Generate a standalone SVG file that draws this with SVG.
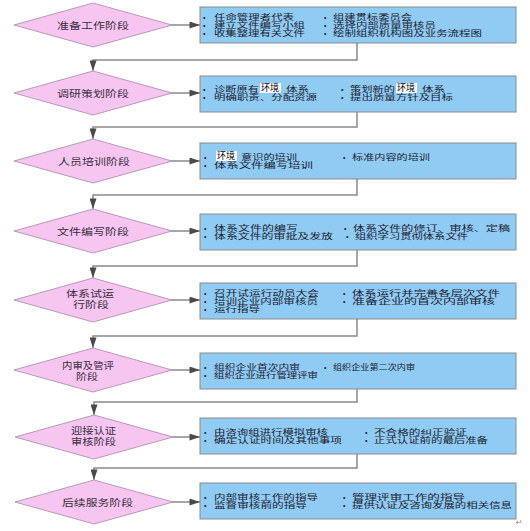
<svg xmlns="http://www.w3.org/2000/svg" width="530" height="531" viewBox="0 0 530 531">
<defs>
<style>
.dia{fill:#F6C6F1;stroke:#B79AB5;stroke-width:1}
.box{fill:#8FCBF3;stroke:#8C8C8C;stroke-width:1}
.dt{font-family:"Liberation Serif","Noto Sans CJK SC",serif;font-size:9.5px;fill:#3A2E3E}
.bt{font-family:"Liberation Serif","Noto Sans CJK SC",serif;font-size:7.5px;fill:#1C1C30}
.bu{font-family:"Liberation Sans",sans-serif;font-size:7px;fill:#1C1C30}
.hl{fill:#FFFFFF}
.ht{font-family:"Liberation Sans","Noto Sans CJK SC",sans-serif;font-size:9px;fill:#000000}
.ln{fill:none;stroke:#8A8A8A;stroke-width:1.5}
</style>
<marker id="ar" viewBox="0 0 12 8" refX="12" refY="4" markerWidth="11" markerHeight="7" markerUnits="userSpaceOnUse" orient="auto">
<path d="M0,0 L12,4 L0,8 z" fill="#4A4A4A"/>
</marker>
</defs>
<rect width="530" height="531" fill="#FFFFFF"/>

<g id="connectors">
<line class="ln" x1="171" y1="25" x2="200" y2="25" marker-end="url(#ar)"/>
<line class="ln" x1="171" y1="93" x2="200" y2="93" marker-end="url(#ar)"/>
<line class="ln" x1="171" y1="161" x2="200" y2="161" marker-end="url(#ar)"/>
<line class="ln" x1="171" y1="231" x2="200" y2="231" marker-end="url(#ar)"/>
<line class="ln" x1="171" y1="300" x2="200" y2="300" marker-end="url(#ar)"/>
<line class="ln" x1="171" y1="370" x2="200" y2="370" marker-end="url(#ar)"/>
<line class="ln" x1="172" y1="437" x2="200" y2="437" marker-end="url(#ar)"/>
<line class="ln" x1="172" y1="502" x2="200" y2="502" marker-end="url(#ar)"/>
<polyline class="ln" points="357,43 357,60 93,60 93,71" marker-end="url(#ar)"/>
<polyline class="ln" points="357,112 357,127 93,127 93,139" marker-end="url(#ar)"/>
<polyline class="ln" points="357,179 357,195 93,195 93,209" marker-end="url(#ar)"/>
<polyline class="ln" points="357,250 357,266 93,266 93,278" marker-end="url(#ar)"/>
<polyline class="ln" points="357,319 357,336 93,336 93,348" marker-end="url(#ar)"/>
<polyline class="ln" points="357,389 357,402 94,402 94,415" marker-end="url(#ar)"/>
<polyline class="ln" points="357,454 357,468 94,468 94,480" marker-end="url(#ar)"/>
</g>

<g id="stage1">
<polygon class="dia" points="14,25 93,3 172,25 93,47"/>
<text class="dt" x="57" y="28.5" textLength="72" lengthAdjust="spacingAndGlyphs">准备工作阶段</text>
</g>
<g id="stage2">
<polygon class="dia" points="14,93 93,71 172,93 93,115"/>
<text class="dt" x="57" y="96.5" textLength="72" lengthAdjust="spacingAndGlyphs">调研策划阶段</text>
</g>
<g id="stage3">
<polygon class="dia" points="14,161 93,139 172,161 93,183"/>
<text class="dt" x="58" y="164.5" textLength="72" lengthAdjust="spacingAndGlyphs">人员培训阶段</text>
</g>
<g id="stage4">
<polygon class="dia" points="14,231 93,209 172,231 93,253"/>
<text class="dt" x="57" y="234.5" textLength="72" lengthAdjust="spacingAndGlyphs">文件编写阶段</text>
</g>
<g id="stage5">
<polygon class="dia" points="14,300 93,278 172,300 93,322"/>
<text class="dt" x="66" y="297" textLength="48" lengthAdjust="spacingAndGlyphs">体系试运</text>
<text class="dt" x="73" y="308" textLength="36" lengthAdjust="spacingAndGlyphs">行阶段</text>
</g>
<g id="stage6">
<polygon class="dia" points="14,370 93,348 172,370 93,392"/>
<text class="dt" x="62" y="369" textLength="52" lengthAdjust="spacingAndGlyphs">内审及管评</text>
<text class="dt" x="76" y="380" textLength="22" lengthAdjust="spacingAndGlyphs">阶段</text>
</g>
<g id="stage7">
<polygon class="dia" points="15,437 94,415 173,437 94,459"/>
<text class="dt" x="71" y="433.5" textLength="45" lengthAdjust="spacingAndGlyphs">迎接认证</text>
<text class="dt" x="71" y="444.5" textLength="45" lengthAdjust="spacingAndGlyphs">审核阶段</text>
</g>
<g id="stage8">
<polygon class="dia" points="15,502 94,480 173,502 94,524"/>
<text class="dt" x="62" y="505.5" textLength="71" lengthAdjust="spacingAndGlyphs">后续服务阶段</text>
</g>

<g id="tasks1">
<rect class="box" x="200" y="7" width="316" height="36"/>
<text class="bu" x="203" y="20">•</text>
<text class="bu" x="203" y="28">•</text>
<text class="bu" x="203" y="36">•</text>
<text class="bt" x="214" y="20" textLength="80" lengthAdjust="spacingAndGlyphs">任命管理者代表</text>
<text class="bt" x="214" y="28" textLength="91" lengthAdjust="spacingAndGlyphs">建立文件编写小组</text>
<text class="bt" x="214" y="36" textLength="91" lengthAdjust="spacingAndGlyphs">收集整理有关文件</text>
<text class="bu" x="324" y="20">•</text>
<text class="bu" x="324" y="28">•</text>
<text class="bu" x="324" y="36">•</text>
<text class="bt" x="333" y="20" textLength="79" lengthAdjust="spacingAndGlyphs">组建贯标委员会</text>
<text class="bt" x="333" y="28" textLength="103" lengthAdjust="spacingAndGlyphs">选择内部质量审核员</text>
<text class="bt" x="333" y="36" textLength="149" lengthAdjust="spacingAndGlyphs">绘制组织机构图及业务流程图</text>
</g>

<g id="tasks2">
<rect class="box" x="200" y="76" width="316" height="36"/>
<text class="bu" x="203" y="92">•</text>
<text class="bu" x="203" y="100">•</text>
<text class="bt" x="214" y="92" textLength="45" lengthAdjust="spacingAndGlyphs">诊断原有</text>
<rect class="hl" x="260" y="83" width="21" height="10"/>
<text class="ht" x="261" y="91.3">环境</text>
<text class="bt" x="286" y="92" textLength="23" lengthAdjust="spacingAndGlyphs">体系</text>
<text class="bt" x="214" y="100" textLength="103" lengthAdjust="spacingAndGlyphs">明确职责、分配资源</text>
<text class="bu" x="341" y="92">•</text>
<text class="bu" x="341" y="100">•</text>
<text class="bt" x="350" y="92" textLength="45" lengthAdjust="spacingAndGlyphs">策划新的</text>
<rect class="hl" x="396" y="83" width="21" height="10"/>
<text class="ht" x="397" y="91.3">环境</text>
<text class="bt" x="422" y="92" textLength="23" lengthAdjust="spacingAndGlyphs">体系</text>
<text class="bt" x="350" y="100" textLength="103" lengthAdjust="spacingAndGlyphs">提出质量方针及目标</text>
</g>

<g id="tasks3">
<rect class="box" x="200" y="143" width="316" height="36"/>
<text class="bu" x="204" y="160">•</text>
<text class="bu" x="204" y="168">•</text>
<rect class="hl" x="216" y="151" width="21" height="10"/>
<text class="ht" x="217" y="159.3">环境</text>
<text class="bt" x="241" y="160" textLength="56" lengthAdjust="spacingAndGlyphs">意识的培训</text>
<text class="bt" x="214" y="168" textLength="99" lengthAdjust="spacingAndGlyphs">体系文件编写培训</text>
<text class="bu" x="343" y="160">•</text>
<text class="bt" x="352" y="160" textLength="78" lengthAdjust="spacingAndGlyphs">标准内容的培训</text>
</g>

<g id="tasks4">
<rect class="box" x="200" y="214" width="316" height="36"/>
<text class="bu" x="204" y="231">•</text>
<text class="bu" x="204" y="239">•</text>
<text class="bt" x="214" y="231" textLength="84" lengthAdjust="spacingAndGlyphs">体系文件的编写</text>
<text class="bt" x="214" y="239" textLength="119" lengthAdjust="spacingAndGlyphs">体系文件的审批及发放</text>
<text class="bu" x="344" y="231">•</text>
<text class="bu" x="346" y="239">•</text>
<text class="bt" x="353" y="231" textLength="157" lengthAdjust="spacingAndGlyphs">体系文件的修订、审核、定稿</text>
<text class="bt" x="355" y="239" textLength="113" lengthAdjust="spacingAndGlyphs">组织学习贯彻体系文件</text>
</g>

<g id="tasks5">
<rect class="box" x="200" y="283" width="316" height="36"/>
<text class="bu" x="204" y="296">•</text>
<text class="bu" x="204" y="304">•</text>
<text class="bu" x="204" y="312">•</text>
<text class="bt" x="214" y="296" textLength="105" lengthAdjust="spacingAndGlyphs">召开试运行动员大会</text>
<text class="bt" x="214" y="304" textLength="104" lengthAdjust="spacingAndGlyphs">培训企业内部审核员</text>
<text class="bt" x="214" y="312" textLength="46" lengthAdjust="spacingAndGlyphs">运行指导</text>
<text class="bu" x="343" y="296">•</text>
<text class="bu" x="343" y="304">•</text>
<text class="bt" x="352" y="296" textLength="148" lengthAdjust="spacingAndGlyphs">体系运行并完善各层次文件</text>
<text class="bt" x="352" y="304" textLength="143" lengthAdjust="spacingAndGlyphs">准备企业的首次内部审核</text>
</g>

<g id="tasks6">
<rect class="box" x="200" y="353" width="316" height="36"/>
<text class="bu" x="204" y="370">•</text>
<text class="bu" x="204" y="378">•</text>
<text class="bt" x="214" y="370" textLength="86" lengthAdjust="spacingAndGlyphs">组织企业首次内审</text>
<text class="bt" x="214" y="378" textLength="104" lengthAdjust="spacingAndGlyphs">组织企业进行管理评审</text>
<text class="bu" x="324" y="370">•</text>
<text class="bt" x="333" y="370" textLength="82" lengthAdjust="spacingAndGlyphs">组织企业第二次内审</text>
</g>

<g id="tasks7">
<rect class="box" x="200" y="418" width="316" height="36"/>
<text class="bu" x="204" y="435">•</text>
<text class="bu" x="204" y="443">•</text>
<text class="bt" x="214" y="435" textLength="114" lengthAdjust="spacingAndGlyphs">由咨询组进行模拟审核</text>
<text class="bt" x="214" y="443" textLength="128" lengthAdjust="spacingAndGlyphs">确定认证时间及其他事项</text>
<text class="bu" x="365" y="435">•</text>
<text class="bu" x="365" y="443">•</text>
<text class="bt" x="374" y="435" textLength="93" lengthAdjust="spacingAndGlyphs">不合格的纠正验证</text>
<text class="bt" x="374" y="443" textLength="114" lengthAdjust="spacingAndGlyphs">正式认证前的最后准备</text>
</g>

<g id="tasks8">
<rect class="box" x="200" y="483" width="316" height="36"/>
<text class="bu" x="204" y="500">•</text>
<text class="bu" x="204" y="508">•</text>
<text class="bt" x="214" y="500" textLength="104" lengthAdjust="spacingAndGlyphs">内部审核工作的指导</text>
<text class="bt" x="214" y="508" textLength="93" lengthAdjust="spacingAndGlyphs">监督审核前的指导</text>
<text class="bu" x="343" y="500">•</text>
<text class="bu" x="343" y="508">•</text>
<text class="bt" x="352" y="500" textLength="113" lengthAdjust="spacingAndGlyphs">管理评审工作的指导</text>
<text class="bt" x="352" y="508" textLength="160" lengthAdjust="spacingAndGlyphs">提供认证及咨询发展的相关信息</text>
</g>

<text x="516" y="525" font-family="DejaVu Sans,sans-serif" font-size="8" fill="#888888">↵</text>
</svg>
